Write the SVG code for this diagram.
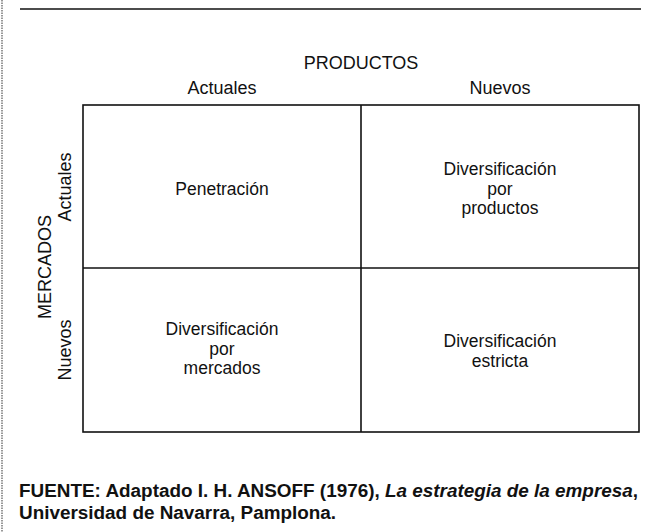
<svg xmlns="http://www.w3.org/2000/svg" width="658" height="532" viewBox="0 0 658 532">
<style>
.t{font-family:"Liberation Sans",Arial,sans-serif;font-size:18px;fill:#111;text-anchor:middle}
.c{font-family:"Liberation Sans",Arial,sans-serif;font-size:17.5px;fill:#111;text-anchor:middle}
.b{font-family:"Liberation Sans",Arial,sans-serif;font-size:18.9px;font-weight:bold;fill:#111}
.ln{stroke:#111;stroke-width:1.6;fill:none}
</style>
<rect width="658" height="532" fill="#fff"/>
<line x1="2" y1="0" x2="2" y2="532" stroke="#555" stroke-width="1.2" stroke-dasharray="1.5,1"/>
<line x1="20" y1="9" x2="641" y2="9" class="ln"/>
<g id="header">
<text x="361" y="69" class="t">PRODUCTOS</text>
<text x="222" y="94" class="t">Actuales</text>
<text x="500" y="94" class="t">Nuevos</text>
<text transform="translate(51,267) rotate(-90)" class="t">MERCADOS</text>
<text transform="translate(71,187) rotate(-90)" class="t">Actuales</text>
<text transform="translate(71,350) rotate(-90)" class="t">Nuevos</text>
</g>
<g id="grid">
<rect x="83" y="105" width="556" height="327" class="ln"/>
<line x1="361" y1="105" x2="361" y2="432" class="ln"/>
<line x1="83" y1="268" x2="639" y2="268" class="ln"/>
</g>
<g id="penetracion"><text x="222" y="195" class="c">Penetración</text></g>
<g id="div-productos"><text x="500" y="175" class="c">Diversificación</text><text x="500" y="194.5" class="c">por</text><text x="500" y="214" class="c">productos</text></g>
<g id="div-mercados"><text x="222" y="335" class="c">Diversificación</text><text x="222" y="354.5" class="c">por</text><text x="222" y="374" class="c">mercados</text></g>
<g id="div-estricta"><text x="500" y="347" class="c">Diversificación</text><text x="500" y="366.5" class="c">estricta</text></g>
<g id="fuente">
<text x="19" y="497" class="b">FUENTE: Adaptado I. H. ANSOFF (1976), <tspan font-style="italic">La estrategia de la empresa</tspan>,</text>
<text x="19" y="519" class="b">Universidad de Navarra, Pamplona.</text>
</g>
</svg>
